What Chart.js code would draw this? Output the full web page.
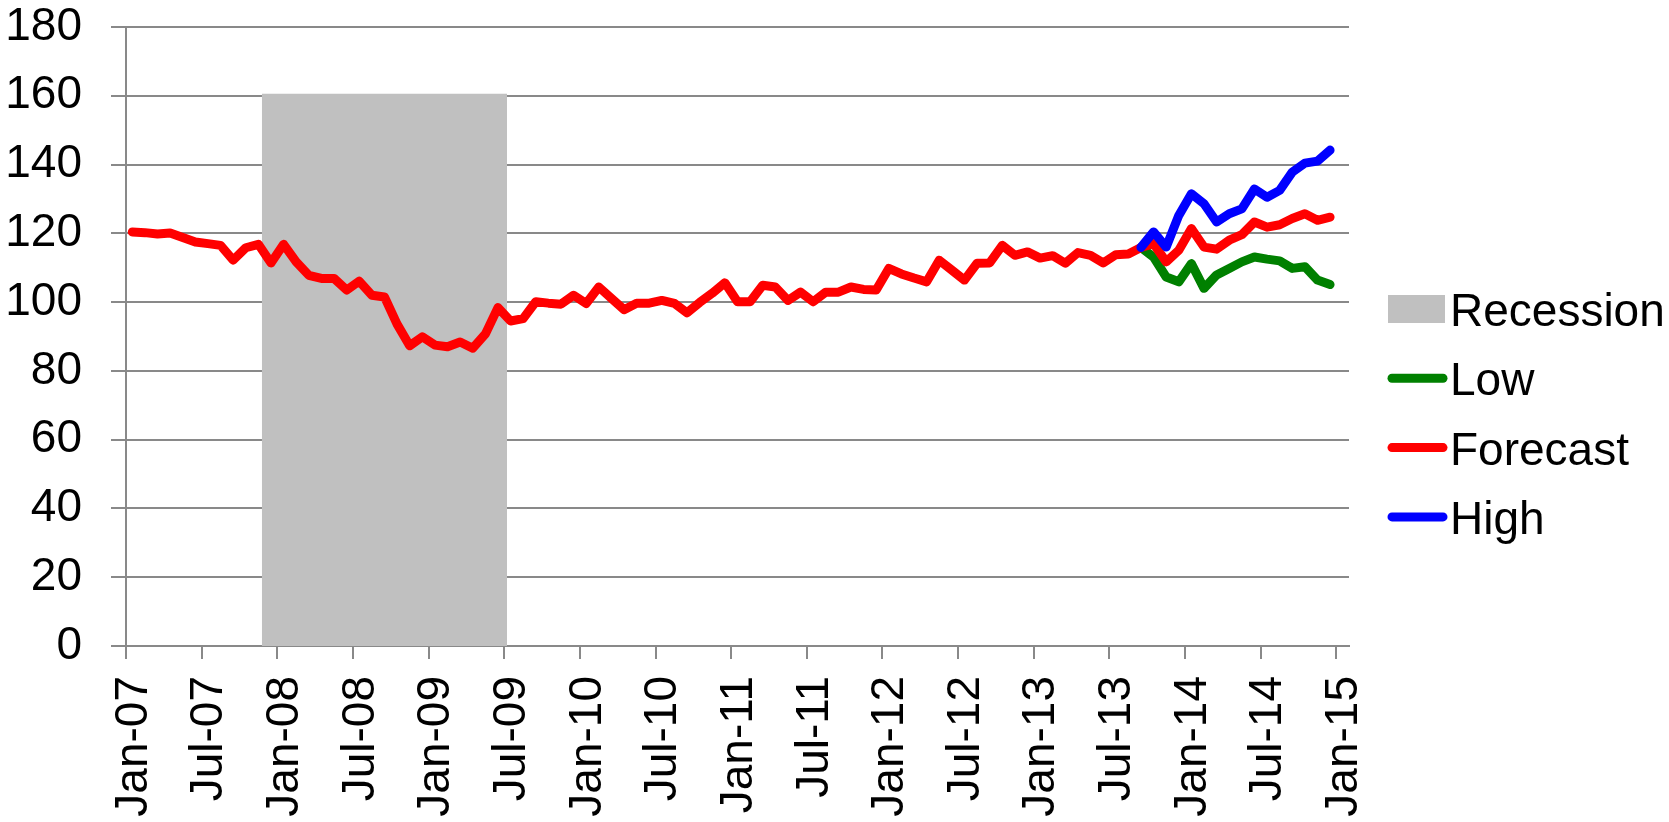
<!DOCTYPE html>
<html><head><meta charset="utf-8">
<script src="https://cdn.jsdelivr.net/npm/chart.js@4"></script>
<style>html,body{margin:0;padding:0;background:#fff;overflow:hidden}#c{display:block}</style>
</head><body>
<canvas id="c" width="1669" height="822"></canvas>
<script>
// X tick labels (every 6 months, Jan-07 .. Jan-15)
const tickLabels = ['Jan-07','Jul-07','Jan-08','Jul-08','Jan-09','Jul-09','Jan-10','Jul-10','Jan-11','Jul-11','Jan-12','Jul-12','Jan-13','Jul-13','Jan-14','Jul-14','Jan-15'];
const yTicks = [0, 20, 40, 60, 80, 100, 120, 140, 160, 180];

// Monthly values, Jan-07 .. Dec-14
const forecast = [
  120.4,120.2,119.8,120.1,118.8,117.5,117.0,116.5,112.2,115.8,116.8,111.4,
  116.8,111.7,107.8,106.9,106.9,103.5,106.1,102.0,101.5,93.6,87.3,89.9,
  87.5,87.0,88.4,86.6,90.7,98.4,94.5,95.2,100.1,99.7,99.4,102.0,
  99.6,104.4,101.1,97.8,99.7,99.7,100.5,99.6,96.9,99.9,102.6,105.6,
  100.1,100.1,104.9,104.4,100.5,102.9,100.1,102.9,102.9,104.4,103.7,103.5,
  109.8,108.2,107.0,105.9,112.2,109.3,106.4,111.3,111.4,116.5,113.6,114.6,
  112.8,113.5,111.3,114.4,113.6,111.4,113.8,114.0,115.9,117.0,111.7,115.1,
  121.4,116.0,115.4,118.0,119.6,123.3,121.8,122.5,124.3,125.7,123.8,124.7
];
// Low / High scenarios, Sep-13 .. Dec-14
const scenarioStart = 80;
const low  = [115.9,113.1,107.3,105.9,111.2,104.0,107.9,109.8,111.7,113.1,112.5,112.0,109.8,110.3,106.4,105.1];
const high = [115.9,120.4,116.0,125.2,131.5,128.6,123.3,125.7,127.1,132.9,130.5,132.5,137.8,140.4,141.0,144.2];

// Recession band (in months since Jan-07) and its height
const recessionSpan = [10.77, 30.22];
const recessionLevel = 160.6;

const totalMonths = 97;

function toPoints(values, start) {
  return values.map((v, i) => ({ x: start + i + 0.5, y: v }));
}

const FONT = '"Liberation Sans", Arial, sans-serif';
const GRID = '#898989';
const LINE_W = 9;

const sideLegend = {
  id: 'sideLegend',
  afterDraw(chart) {
    const ctx = chart.ctx;
    ctx.save();
    ctx.font = '46px ' + FONT;
    ctx.textBaseline = 'alphabetic';
    const x0 = 1388, w = 57, textX = 1450, y0 = 309, step = 69.3;
    chart.data.datasets.forEach((ds, k) => {
      const cy = y0 + k * step;
      if (ds.legendBox) {
        ctx.fillStyle = ds.backgroundColor;
        ctx.fillRect(x0, cy - 14, w, 28);
      } else {
        ctx.strokeStyle = ds.borderColor;
        ctx.lineWidth = LINE_W;
        ctx.lineCap = 'round';
        ctx.beginPath();
        ctx.moveTo(x0 + 4, cy);
        ctx.lineTo(x0 + w - 2, cy);
        ctx.stroke();
      }
      ctx.fillStyle = '#000';
      ctx.fillText(ds.label, textX, cy + 17);
    });
    ctx.restore();
  }
};

const lineDs = (label, color, data, order) => ({
  label, data, order,
  borderColor: color, backgroundColor: color,
  borderWidth: LINE_W, pointRadius: 0, tension: 0,
  borderJoinStyle: 'round', borderCapStyle: 'round', fill: false
});

new Chart(document.getElementById('c'), {
  type: 'line',
  data: {
    datasets: [
      {
        label: 'Recession', legendBox: true, order: 4,
        data: [{ x: recessionSpan[0], y: recessionLevel }, { x: recessionSpan[1], y: recessionLevel }],
        backgroundColor: '#c0c0c0', borderColor: '#c0c0c0', borderWidth: 0,
        pointRadius: 0, fill: 'origin'
      },
      lineDs('Low', '#008000', toPoints(low, scenarioStart), 3),
      lineDs('Forecast', '#ff0000', toPoints(forecast, 0), 2),
      lineDs('High', '#0000ff', toPoints(high, scenarioStart), 1)
    ]
  },
  plugins: [sideLegend],
  options: {
    responsive: false, animation: false, devicePixelRatio: 1, events: [],
    layout: { padding: { top: 0, right: 320, left: 0, bottom: 0 } },
    plugins: { legend: { display: false }, tooltip: { enabled: false } },
    scales: {
      x: {
        type: 'linear', min: 0, max: totalMonths,
        afterBuildTicks: s => { s.ticks = tickLabels.map((t, i) => ({ value: i * 6 })); },
        afterFit: s => { s.height = 176; },
        grid: { drawOnChartArea: false, drawTicks: true, tickLength: 13, color: GRID, lineWidth: 2 },
        border: { display: true, color: GRID, width: 2 },
        ticks: {
          autoSkip: false, maxRotation: 90, minRotation: 90, padding: 17, labelOffset: 8,
          color: '#000', font: { family: FONT, size: 46 },
          callback: v => tickLabels[Math.round(v / 6)]
        }
      },
      y: {
        min: 0, max: 180,
        afterBuildTicks: s => { s.ticks = yTicks.map(v => ({ value: v })); },
        afterFit: s => { s.width = 126; s.paddingTop = 27; s.paddingBottom = 0; },
        grid: { color: GRID, lineWidth: 2, tickLength: 15, drawTicks: true },
        border: { display: true, color: GRID, width: 2 },
        ticks: { padding: 29, color: '#000', font: { family: FONT, size: 46, lineHeight: 1.17 } }
      }
    }
  }
});
</script>
</body></html>
